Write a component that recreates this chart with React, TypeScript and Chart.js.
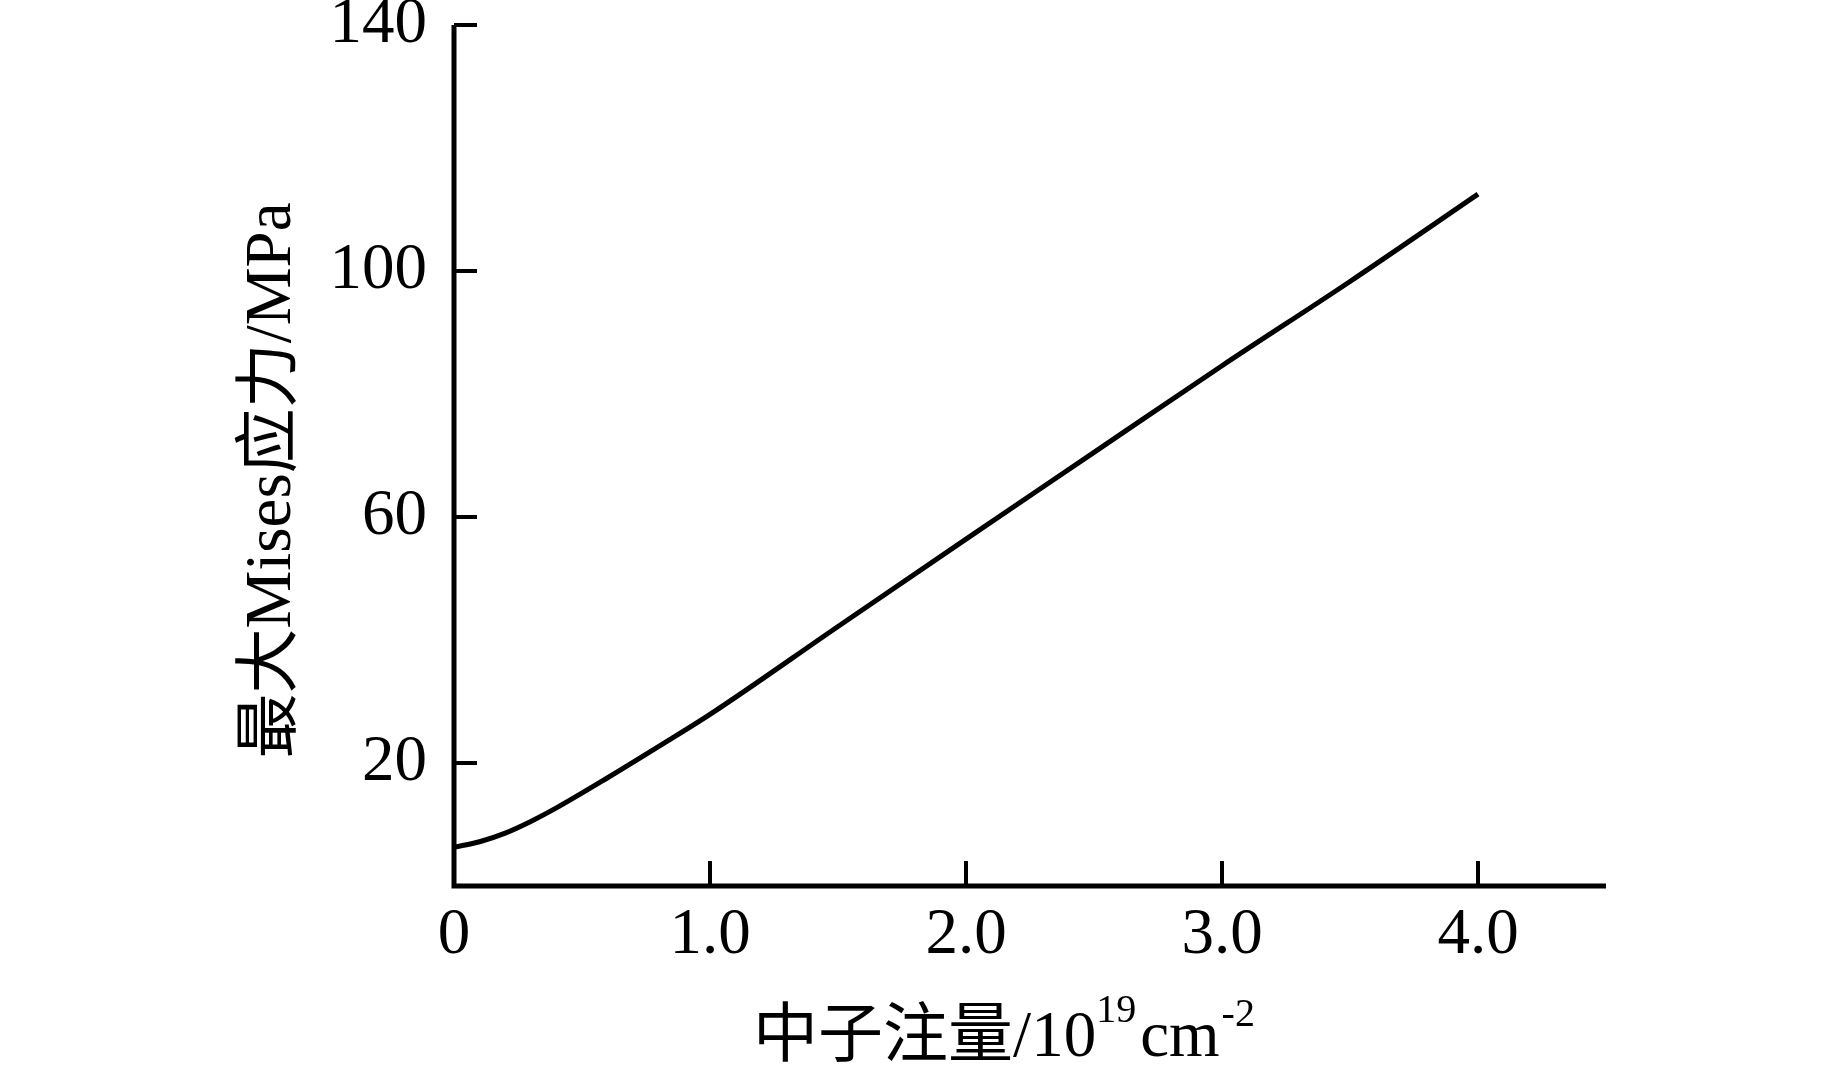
import { useEffect, useRef } from "react";
import { Chart, registerables } from "chart.js";

Chart.register(...registerables);

// ---- data ----
const fluence = [0, 0.1, 0.2, 0.3, 0.4, 0.6, 0.8, 1.0, 1.5, 2.0, 2.5, 3.0, 3.5, 4.0];
const maxStress = [6.3, 7.2, 8.6, 10.5, 12.7, 17.6, 22.7, 27.9, 42.2, 56.4, 70.5, 84.6, 98.3, 112.5];

const xTickValues = [0, 1, 2, 3, 4];
const xTickLabels = ["0", "1.0", "2.0", "3.0", "4.0"];
const yTickValues = [20, 60, 100, 140];
const yTickLabels = ["20", "60", "100", "140"];

const yTitle = "最大Mises应力/MPa";
const xTitleMain = "中子注量/10";
const xTitleSup1 = "19";
const xTitleMid = "cm";
const xTitleSup2 = "-2";

const SERIF = '"Liberation Serif", "Times New Roman", "Noto Sans CJK SC", serif';
const FONT_SIZE = 65;
const SUP_SIZE = 40;

const axesPlugin = {
  id: "inwardAxes",
  afterDatasetsDraw(chart: any) {
    const ctx = chart.ctx as CanvasRenderingContext2D;
    const xs = chart.scales.x;
    const ys = chart.scales.y;
    const left = xs.getPixelForValue(0);
    const right = xs.getPixelForValue(xs.max);
    const top = ys.getPixelForValue(ys.max);
    const bottom = ys.getPixelForValue(0);
    ctx.save();
    ctx.strokeStyle = "#000";
    ctx.lineWidth = 5;
    ctx.lineJoin = "miter";
    ctx.lineCap = "butt";
    ctx.beginPath();
    ctx.moveTo(left, top);
    ctx.lineTo(left, bottom);
    ctx.lineTo(right, bottom);
    ctx.stroke();
    ctx.lineWidth = 4;
    ctx.beginPath();
    yTickValues.forEach((v) => {
      const py = ys.getPixelForValue(v);
      ctx.moveTo(left, py);
      ctx.lineTo(left + 23, py);
    });
    xTickValues.forEach((v) => {
      if (v === 0) return;
      const px = xs.getPixelForValue(v);
      ctx.moveTo(px, bottom);
      ctx.lineTo(px, bottom - 25);
    });
    ctx.stroke();
    ctx.restore();
  },
  afterDraw(chart: any) {
    const ctx = chart.ctx as CanvasRenderingContext2D;
    const area = chart.chartArea;
    ctx.save();
    ctx.fillStyle = "#000";
    // y title (rotated)
    ctx.save();
    ctx.translate(290, (area.top + area.bottom) / 2 + 25);
    ctx.rotate(-Math.PI / 2);
    ctx.font = `${FONT_SIZE}px ${SERIF}`;
    ctx.textAlign = "center";
    ctx.textBaseline = "alphabetic";
    ctx.fillText(yTitle, 0, 0);
    ctx.restore();

    // x title with superscripts
    const main = `${FONT_SIZE}px ${SERIF}`;
    const sup = `${SUP_SIZE}px ${SERIF}`;
    ctx.textAlign = "left";
    ctx.textBaseline = "alphabetic";
    ctx.font = main;
    const w1 = ctx.measureText(xTitleMain).width;
    const w3 = ctx.measureText(xTitleMid).width;
    ctx.font = sup;
    const w2 = ctx.measureText(xTitleSup1).width;
    const w4 = ctx.measureText(xTitleSup2).width;
    const total = w1 + w2 + 4 + w3 + 2 + w4;
    const cx = (area.left + area.right) / 2 - 26;
    let x = cx - total / 2;
    const base = 1056;
    ctx.font = main;
    ctx.fillText(xTitleMain, x, base);
    x += w1;
    ctx.font = sup;
    ctx.fillText(xTitleSup1, x, base - 34);
    x += w2 + 4;
    ctx.font = main;
    ctx.fillText(xTitleMid, x, base);
    x += w3 + 2;
    ctx.font = sup;
    ctx.fillText(xTitleSup2, x, base - 30);
    ctx.restore();
  },
};

function zeroPad(s: any) {
  s.paddingLeft = 0;
  s.paddingRight = 0;
  s.paddingTop = 0;
  s.paddingBottom = 0;
}

export default function App() {
  const ref = useRef<HTMLCanvasElement | null>(null);
  useEffect(() => {
    if (!ref.current) return;
    document.body.style.margin = "0";
    const tickFont = { family: SERIF, size: FONT_SIZE };
    const chart = new Chart(ref.current, {
      type: "line",
      data: {
        datasets: [
          {
            data: fluence.map((f, i) => ({ x: f, y: maxStress[i] })),
            borderColor: "#000",
            borderWidth: 5,
            pointRadius: 0,
            fill: false,
            cubicInterpolationMode: "monotone",
          },
        ],
      },
      options: {
        responsive: false,
        animation: false,
        events: [],
        layout: { autoPadding: false, padding: { left: 0, top: 25, right: 237, bottom: 0 } },
        plugins: { legend: { display: false }, tooltip: { enabled: false }, title: { display: false } },
        scales: {
          x: {
            type: "linear",
            min: 0,
            max: 4.5,
            grid: { display: false, drawTicks: false },
            border: { display: false },
            ticks: {
              padding: 11,
              color: "#000",
              font: tickFont,
              maxRotation: 0,
              autoSkip: false,
              callback: (v: any) => {
                const i = xTickValues.indexOf(Number(v));
                return i >= 0 ? xTickLabels[i] : "";
              },
            },
            afterBuildTicks: (s: any) => {
              s.ticks = xTickValues.map((v) => ({ value: v }));
            },
            afterFit: (s: any) => {
              s.height = 182;
              zeroPad(s);
            },
          },
          y: {
            type: "linear",
            min: 0,
            max: 140,
            grid: { display: false, drawTicks: false },
            border: { display: false },
            ticks: {
              padding: 27,
              color: "#000",
              font: tickFont,
              autoSkip: false,
              callback: (v: any) => {
                const i = yTickValues.indexOf(Number(v));
                return i >= 0 ? yTickLabels[i] : "";
              },
            },
            afterBuildTicks: (s: any) => {
              s.ticks = yTickValues.map((v) => ({ value: v }));
            },
            afterFit: (s: any) => {
              s.width = 454;
              zeroPad(s);
            },
          },
        },
      },
      plugins: [axesPlugin],
    } as any);
    return () => chart.destroy();
  }, []);
  return (
    <div style={{ position: "absolute", left: 0, top: 0, width: 1843, height: 1068, background: "#fff" }}>
      <canvas ref={ref} width={1843} height={1068} style={{ display: "block", width: 1843, height: 1068 }} />
    </div>
  );
}
